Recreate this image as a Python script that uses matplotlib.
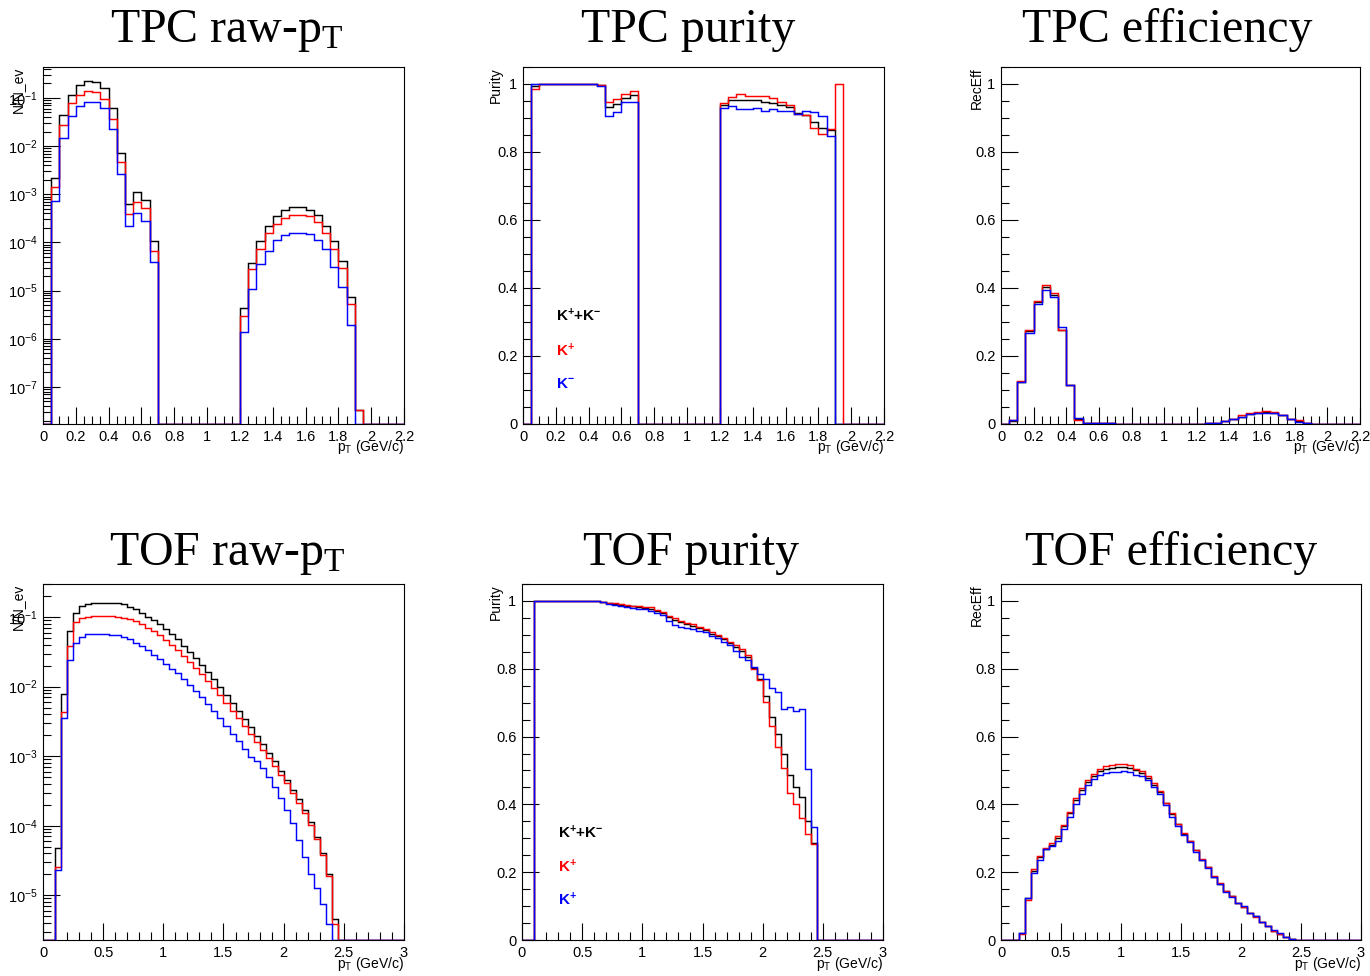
import numpy as np
import matplotlib
matplotlib.use("Agg")
import matplotlib.pyplot as plt
from matplotlib.ticker import MultipleLocator, LogLocator, FuncFormatter, NullFormatter

plt.rcParams['font.family'] = ['Liberation Sans', 'DejaVu Sans']
plt.rcParams['mathtext.fontset'] = 'custom'
plt.rcParams['mathtext.rm'] = 'Liberation Sans'
plt.rcParams['mathtext.it'] = 'Liberation Sans:italic'
plt.rcParams['mathtext.bf'] = 'Liberation Sans:bold'

# ---------------- data ----------------
tpc_edges = np.linspace(0.0, 2.2, 45)   # 44 bins of 0.05
tof_edges = np.linspace(0.0, 3.0, 61)   # 60 bins of 0.05

tpc_raw_all = [0, 2.2e-3, 0.044, 0.117, 0.189, 0.225, 0.218, 0.164, 0.062, 7.3e-3, 6.2e-4, 1.1e-3, 7.6e-4, 1.08e-4,
               0, 0, 0, 0, 0, 0, 0, 0, 0, 0,
               4.4e-6, 3.7e-5, 1.08e-4, 2.2e-4, 3.6e-4, 4.7e-4, 5.4e-4, 5.4e-4, 4.8e-4, 3.7e-4, 2.25e-4, 1.08e-4, 4.1e-5, 7.4e-6,
               3.4e-8, 0, 0, 0, 0, 0]
tpc_raw_pos = [0, 1.4e-3, 0.027, 0.079, 0.117, 0.14, 0.133, 0.097, 0.037, 4.6e-3, 3.9e-4, 7.0e-4, 5.1e-4, 6.8e-5,
               0, 0, 0, 0, 0, 0, 0, 0, 0, 0,
               3.0e-6, 2.8e-5, 7.4e-5, 1.6e-4, 2.47e-4, 3.2e-4, 3.7e-4, 3.7e-4, 3.5e-4, 2.7e-4, 1.6e-4, 7.3e-5, 3.0e-5, 5.3e-6,
               3.4e-8, 0, 0, 0, 0, 0]
tpc_raw_neg = [0, 7.3e-4, 0.0149, 0.0425, 0.068, 0.081, 0.081, 0.062, 0.0229, 2.7e-3, 2.25e-4, 4.0e-4, 2.85e-4, 4.0e-5,
               0, 0, 0, 0, 0, 0, 0, 0, 0, 0,
               1.4e-6, 1.08e-5, 3.6e-5, 6.8e-5, 1.12e-4, 1.4e-4, 1.6e-4, 1.6e-4, 1.5e-4, 1.14e-4, 7.3e-5, 3.1e-5, 1.17e-5, 1.9e-6,
               0, 0, 0, 0, 0, 0]

tpc_pur_all = [0, 0.993, 1, 1, 1, 1, 1, 1, 1, 0.997, 0.932, 0.941, 0.960, 0.968,
               0, 0, 0, 0, 0, 0, 0, 0, 0, 0,
               0.938, 0.953, 0.954, 0.954, 0.952, 0.948, 0.945, 0.937, 0.931, 0.915, 0.910, 0.888, 0.870, 0.864,
               0, 0, 0, 0, 0, 0]
tpc_pur_pos = [0, 0.986, 1, 1, 1, 1, 1, 1, 1, 0.998, 0.946, 0.955, 0.972, 0.979,
               0, 0, 0, 0, 0, 0, 0, 0, 0, 0,
               0.943, 0.962, 0.970, 0.966, 0.966, 0.966, 0.959, 0.948, 0.937, 0.913, 0.910, 0.870, 0.853, 0.867,
               1.0, 0, 0, 0, 0, 0]
tpc_pur_neg = [0, 1.0, 1, 1, 1, 1, 1, 1, 1, 0.995, 0.905, 0.917, 0.947, 0.947,
               0, 0, 0, 0, 0, 0, 0, 0, 0, 0,
               0.929, 0.935, 0.925, 0.927, 0.928, 0.920, 0.925, 0.921, 0.920, 0.913, 0.920, 0.917, 0.905, 0.846,
               0, 0, 0, 0, 0, 0]

tpc_eff_all = [0, 0.010, 0.1235, 0.2745, 0.359, 0.402, 0.378, 0.277, 0.114, 0.016, 0.003, 0.002, 0.002, 0.002,
               0, 0, 0, 0, 0, 0, 0, 0, 0, 0,
               0.001, 0.003, 0.003, 0.008, 0.015, 0.022, 0.029, 0.032, 0.034, 0.032, 0.025, 0.016, 0.008, 0.004,
               0, 0, 0, 0, 0, 0]
tpc_eff_pos = [0, 0.011, 0.127, 0.277, 0.363, 0.408, 0.385, 0.275, 0.116, 0.013, 0.003, 0.002, 0.002, 0.002,
               0, 0, 0, 0, 0, 0, 0, 0, 0, 0,
               0.001, 0.003, 0.003, 0.009, 0.016, 0.025, 0.032, 0.035, 0.037, 0.034, 0.026, 0.016, 0.011, 0.004,
               0, 0, 0, 0, 0, 0]
tpc_eff_neg = [0, 0.013, 0.1225, 0.268, 0.353, 0.395, 0.373, 0.284, 0.116, 0.018, 0.003, 0.002, 0.002, 0.002,
               0, 0, 0, 0, 0, 0, 0, 0, 0, 0,
               0.001, 0.003, 0.003, 0.008, 0.015, 0.022, 0.029, 0.032, 0.033, 0.032, 0.025, 0.015, 0.007, 0.003,
               0, 0, 0, 0, 0, 0]

tof_raw_all = [0, 0, 4.8e-5, 7.9e-3, 0.064, 0.115, 0.144, 0.156, 0.160, 0.162, 0.162, 0.161, 0.159, 0.153, 0.142,
               0.130, 0.116, 0.102, 0.090, 0.079, 0.068, 0.058, 0.048, 0.039, 0.032, 0.026, 0.0208, 0.0165, 0.0128,
               0.0099, 0.0077, 0.0059, 0.0045, 0.0034, 0.0026, 0.00195, 0.00148, 0.00112, 8.4e-4, 6.2e-4, 4.6e-4,
               3.3e-4, 2.4e-4, 1.68e-4, 1.12e-4, 6.9e-5, 4.1e-5, 2.0e-5, 4.5e-6,
               0, 0, 0, 0, 0, 0, 0, 0, 0, 0, 0]
tof_raw_pos = [0, 0, 2.56e-5, 4.3e-3, 0.0386, 0.085, 0.098, 0.101, 0.103, 0.104, 0.104, 0.103, 0.101, 0.098, 0.093,
               0.087, 0.080, 0.071, 0.063, 0.055, 0.047, 0.040, 0.034, 0.0278, 0.0226, 0.0185, 0.0150, 0.0121, 0.0095,
               0.0075, 0.0058, 0.0045, 0.0035, 0.0027, 0.0021, 0.0016, 0.00124, 9.5e-4, 7.2e-4, 5.4e-4, 4.05e-4,
               2.95e-4, 2.15e-4, 1.52e-4, 1.02e-4, 6.5e-5, 3.8e-5, 1.9e-5, 3.9e-6,
               0, 0, 0, 0, 0, 0, 0, 0, 0, 0, 0]
tof_raw_neg = [0, 0, 2.3e-5, 3.6e-3, 0.0245, 0.0425, 0.052, 0.058, 0.058, 0.058, 0.057, 0.056, 0.0545, 0.052, 0.048,
               0.043, 0.038, 0.0335, 0.029, 0.025, 0.0215, 0.018, 0.0155, 0.0128, 0.0105, 0.0088, 0.0071, 0.0057, 0.0044,
               0.0035, 0.0027, 0.0021, 0.00163, 0.00126, 9.7e-4, 8.4e-4, 6.7e-4, 5.1e-4, 3.57e-4, 2.48e-4, 1.68e-4,
               1.08e-4, 6.2e-5, 3.57e-5, 2.05e-5, 1.25e-5, 7.6e-6, 3.9e-6,
               0, 0, 0, 0, 0, 0, 0, 0, 0, 0, 0, 0]

tof_pur_all = [0, 0, 1, 1, 1, 1, 1, 1, 1, 1, 1, 1, 1,
               0.998, 0.994, 0.991, 0.989, 0.986, 0.984, 0.982, 0.980, 0.977, 0.971, 0.964, 0.953, 0.944, 0.937,
               0.932, 0.926, 0.919, 0.913, 0.904, 0.897, 0.887, 0.877, 0.865, 0.852, 0.835, 0.802, 0.769, 0.719,
               0.658, 0.609, 0.548, 0.486, 0.451, 0.422, 0.351, 0.287,
               0, 0, 0, 0, 0, 0, 0, 0, 0, 0, 0]
tof_pur_pos = [0, 0, 1, 1, 1, 1, 1, 1, 1, 1, 1, 1, 1,
               0.998, 0.995, 0.993, 0.991, 0.988, 0.986, 0.985, 0.983, 0.982, 0.974, 0.967, 0.957, 0.949, 0.941,
               0.936, 0.931, 0.924, 0.917, 0.909, 0.901, 0.890, 0.880, 0.870, 0.857, 0.842, 0.800, 0.767, 0.702,
               0.630, 0.568, 0.508, 0.433, 0.401, 0.361, 0.313, 0.284,
               0, 0, 0, 0, 0, 0, 0, 0, 0, 0, 0]
tof_pur_neg = [0, 0, 1, 1, 1, 1, 1, 1, 1, 1, 1, 1, 1,
               0.996, 0.991, 0.989, 0.986, 0.981, 0.978, 0.975, 0.975, 0.971, 0.964, 0.959, 0.942, 0.929, 0.924,
               0.921, 0.917, 0.912, 0.907, 0.898, 0.891, 0.880, 0.870, 0.852, 0.835, 0.827, 0.806, 0.784, 0.769,
               0.742, 0.732, 0.680, 0.688, 0.675, 0.682, 0.505, 0.333,
               0, 0, 0, 0, 0, 0, 0, 0, 0, 0, 0]

tof_eff_all = [0, 0, 0, 0.0197, 0.123, 0.204, 0.244, 0.269, 0.281, 0.300, 0.335, 0.374, 0.414, 0.442, 0.465,
               0.483, 0.498, 0.503, 0.507, 0.510, 0.510, 0.507, 0.501, 0.493, 0.478, 0.458, 0.437, 0.404, 0.371,
               0.342, 0.313, 0.291, 0.264, 0.237, 0.214, 0.187, 0.166, 0.144, 0.129, 0.109, 0.098, 0.080, 0.070,
               0.052, 0.042, 0.028, 0.019, 0.009, 0.002,
               0, 0, 0, 0, 0, 0, 0, 0, 0, 0, 0]
tof_eff_pos = [0, 0, 0, 0.018, 0.118, 0.209, 0.249, 0.271, 0.286, 0.306, 0.340, 0.379, 0.419, 0.448, 0.471,
               0.490, 0.503, 0.512, 0.515, 0.518, 0.518, 0.515, 0.503, 0.497, 0.483, 0.463, 0.438, 0.404, 0.374,
               0.342, 0.317, 0.291, 0.264, 0.240, 0.215, 0.189, 0.167, 0.145, 0.130, 0.108, 0.097, 0.079, 0.069,
               0.052, 0.042, 0.027, 0.018, 0.008, 0.002,
               0, 0, 0, 0, 0, 0, 0, 0, 0, 0, 0]
tof_eff_neg = [0, 0, 0, 0.0217, 0.123, 0.197, 0.236, 0.268, 0.276, 0.293, 0.327, 0.364, 0.402, 0.432, 0.457,
               0.475, 0.488, 0.493, 0.495, 0.496, 0.498, 0.495, 0.488, 0.485, 0.473, 0.451, 0.431, 0.399, 0.364,
               0.337, 0.310, 0.288, 0.261, 0.235, 0.212, 0.185, 0.166, 0.143, 0.128, 0.109, 0.099, 0.081, 0.072,
               0.052, 0.042, 0.030, 0.020, 0.010, 0.002,
               0, 0, 0, 0, 0, 0, 0, 0, 0, 0, 0]

series_colors = ['black', 'red', 'blue']
titles = ["TPC raw-p$\\mathregular{_T}$", "TPC purity", "TPC efficiency",
          "TOF raw-p$\\mathregular{_T}$", "TOF purity", "TOF efficiency"]
ylabels = ["N/N_ev", "Purity", "RecEff", "N/N_ev", "Purity", "RecEff"]
xlabel = "$\\mathregular{p_T}$ (GeV/c)"
tpc_legend = ["K$\\mathregular{^{+}}$+K$\\mathregular{^{-}}$", "K$\\mathregular{^{+}}$", "K$\\mathregular{^{-}}$"]
tof_legend = ["K$\\mathregular{^{+}}$+K$\\mathregular{^{-}}$", "K$\\mathregular{^{+}}$", "K$\\mathregular{^{+}}$"]

# ---------------- layout ----------------
W, H = 1370, 976
fig = plt.figure(figsize=(W / 100, H / 100), dpi=100)


def rect(l, r, t, b):
    return [l / W, 1 - b / H, (r - l) / W, (b - t) / H]


gfmt = FuncFormatter(lambda v, p: "%g" % round(v, 6))
logfmt = FuncFormatter(lambda v, p: "$\\mathregular{10^{%d}}$" % int(round(np.log10(v))))


def style(ax, xmax, xmaj, xmn):
    ax.set_xlim(0, xmax)
    ax.xaxis.set_major_locator(MultipleLocator(xmaj))
    ax.xaxis.set_minor_locator(MultipleLocator(xmn))
    ax.xaxis.set_major_formatter(gfmt)
    ax.tick_params(which='both', direction='in', top=False, right=False, labelsize=10.5, width=0.8)
    ax.tick_params(which='major', length=12, pad=4)
    ax.tick_params(which='minor', length=6)
    for s in ax.spines.values():
        s.set_linewidth(0.8)


def lin_y(ax):
    ax.set_ylim(0, 1.05)
    ax.yaxis.set_major_locator(MultipleLocator(0.2))
    ax.yaxis.set_minor_locator(MultipleLocator(0.05))
    ax.yaxis.set_major_formatter(gfmt)


def log_y(ax, lo, hi):
    ax.set_yscale('log')
    ax.set_ylim(lo, hi)
    ax.yaxis.set_major_locator(LogLocator(base=10, numticks=20))
    ax.yaxis.set_minor_locator(LogLocator(base=10, subs=np.arange(2, 10), numticks=20))
    ax.yaxis.set_major_formatter(logfmt)
    ax.yaxis.set_minor_formatter(NullFormatter())


def draw(ax, edges, data, floor):
    for vals, col in zip(data, series_colors):
        v = np.asarray(vals, dtype=float)
        if floor > 0:
            v = np.where(v > 0, v, floor)
        ax.stairs(v, edges, baseline=floor, color=col, lw=1.05, zorder=3)


panels = [
    dict(r=rect(43, 404, 67, 424), edges=tpc_edges, data=[tpc_raw_all, tpc_raw_pos, tpc_raw_neg], log=(1.7e-8, 0.44),
         xmax=2.2, xmaj=0.2, xmn=0.05),
    dict(r=rect(523, 884, 67, 424), edges=tpc_edges, data=[tpc_pur_all, tpc_pur_pos, tpc_pur_neg], log=None,
         xmax=2.2, xmaj=0.2, xmn=0.05),
    dict(r=rect(1001, 1360, 67, 424), edges=tpc_edges, data=[tpc_eff_all, tpc_eff_pos, tpc_eff_neg], log=None,
         xmax=2.2, xmaj=0.2, xmn=0.05),
    dict(r=rect(43, 404, 584, 940), edges=tof_edges, data=[tof_raw_all, tof_raw_pos, tof_raw_neg], log=(2.27e-6, 0.30),
         xmax=3.0, xmaj=0.5, xmn=0.1),
    dict(r=rect(522, 883, 584, 940), edges=tof_edges, data=[tof_pur_all, tof_pur_pos, tof_pur_neg], log=None,
         xmax=3.0, xmaj=0.5, xmn=0.1),
    dict(r=rect(1001, 1361, 584, 940), edges=tof_edges, data=[tof_eff_all, tof_eff_pos, tof_eff_neg], log=None,
         xmax=3.0, xmaj=0.5, xmn=0.1),
]

axes = []
for p in panels:
    ax = fig.add_axes(p['r'])
    style(ax, p['xmax'], p['xmaj'], p['xmn'])
    if p['log'] is not None:
        log_y(ax, *p['log'])
        draw(ax, p['edges'], p['data'], p['log'][0])
    else:
        lin_y(ax)
        draw(ax, p['edges'], p['data'], 0.0)
    axes.append(ax)

# titles (pixel positions of centre / baseline)
title_pos = [(227, 42), (688, 42), (1167, 42), (227, 565), (691, 565), (1171, 565)]
for t, (x, y) in zip(titles, title_pos):
    fig.text(x / W, 1 - y / H, t, family=['Liberation Serif', 'DejaVu Serif'], fontsize=34.5,
             ha='center', va='baseline')

# y labels (rotated, top-aligned with frame top)
ylab_pos = [(18, 67), (496, 67), (977, 67), (18, 584), (496, 584), (977, 584)]
for t, (x, y) in zip(ylabels, ylab_pos):
    fig.text(x / W, 1 - y / H, t, rotation=90, ha='center', va='top', fontsize=10)

# x labels (right-aligned at frame right)
xlab_pos = [(404, 451), (884, 451), (1360, 451), (404, 968), (883, 968), (1361, 968)]
for x, y in xlab_pos:
    fig.text(x / W, 1 - y / H, xlabel, ha='right', va='baseline', fontsize=10)

# in-plot species labels
for ax, labels, x0 in [(axes[1], tpc_legend, 0.2), (axes[4], tof_legend, 0.3)]:
    for lab, col, yv in zip(labels, series_colors, [0.318, 0.217, 0.118]):
        ax.text(x0, yv, lab, color=col, fontsize=11, fontweight='bold', ha='left', va='center')

fig.savefig("out.png", dpi=100)
